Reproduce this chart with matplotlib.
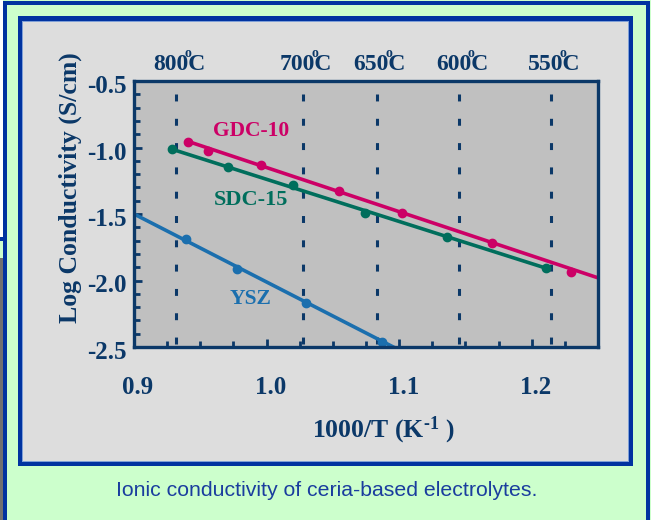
import matplotlib
matplotlib.use('Agg')
import matplotlib.pyplot as plt
from matplotlib.patches import Rectangle
from matplotlib.ticker import MultipleLocator
from matplotlib.transforms import ScaledTranslation

# 1000/T (K^-1) against log conductivity (S/cm)
gdc_x = [0.941, 0.956, 0.996, 1.055, 1.102, 1.170, 1.230]
gdc_y = [-0.956, -1.026, -1.132, -1.325, -1.495, -1.716, -1.934]
gdc_fit_x = [0.941, 1.25]
gdc_fit_y = [-0.955, -1.98]

sdc_x = [0.929, 0.971, 1.020, 1.074, 1.136, 1.211]
sdc_y = [-1.014, -1.144, -1.282, -1.495, -1.671, -1.908]
sdc_fit_x = [0.929, 1.211]
sdc_fit_y = [-1.014, -1.908]

ysz_x = [0.939, 0.978, 1.030, 1.087]
ysz_y = [-1.690, -1.916, -2.171, -2.460]
ysz_fit_x = [0.90, 1.096]
ysz_fit_y = [-1.50, -2.502]

temps_c = [800, 700, 650, 600, 550]
xticks = [0.9, 1.0, 1.1, 1.2]
yticks = [-2.5, -2.0, -1.5, -1.0, -0.5]

navy = '#0b3868'
gdc_col = '#cc0066'
sdc_col = '#006e5c'
ysz_col = '#1b6fae'
blue = '#0033a0'

plt.rcParams['font.family'] = ['Liberation Serif', 'DejaVu Serif']
plt.rcParams['font.weight'] = 'bold'
plt.rcParams['mathtext.fontset'] = 'custom'
plt.rcParams['mathtext.rm'] = 'Liberation Serif:bold'
plt.rcParams['mathtext.it'] = 'Liberation Serif:bold'
plt.rcParams['mathtext.bf'] = 'Liberation Serif:bold'
plt.rcParams['lines.scale_dashes'] = False

W, H = 651, 520
fig = plt.figure(figsize=(W / 100, H / 100), dpi=100)
fig.patch.set_facecolor('#ccffcc')

# slide decoration, drawn in pixel units
bg = fig.add_axes([0, 0, 1, 1], zorder=0)
bg.set_xlim(0, W)
bg.set_ylim(H, 0)
bg.axis('off')


def box(x0, y0, x1, y1, color):
    bg.add_patch(Rectangle((x0, y0), x1 - x0, y1 - y0, color=color, lw=0))


box(0, 0, 3, 237, 'white')
box(0, 258, 5, H, '#707070')
box(0, 237, 7, 241, blue)
box(3, 1, 7, H, blue)
box(3, 1, 650, 5, blue)
box(646, 1, 650, H, blue)
box(18, 16, 633, 466, blue)
box(22, 21, 629, 462, '#7f9fd6')
box(23, 22, 628, 461, '#dddddd')

# main plot
ax = fig.add_axes([134 / W, 1 - 347 / H, 464 / W, 266 / H], zorder=1)
ax.set_facecolor('#c0c0c0')
ax.set_xlim(0.9, 1.25)
ax.set_ylim(-2.5, -0.5)

for t in temps_c:
    xt = 1000.0 / (t + 273.15)
    ax.plot([xt, xt], [-0.6, -2.5], color=navy, lw=2.2,
            linestyle=(0, (5, 12.5)), zorder=1)
    # the slide sets the degree "o" raised over the last digit and the C
    ax.annotate(f'{t}C', xy=(xt, 1), xycoords=('data', 'axes fraction'),
                xytext=(2, 8), textcoords='offset points',
                ha='center', va='baseline', fontsize=17, color=navy,
                annotation_clip=False)
    ax.annotate('o', xy=(xt, 1), xycoords=('data', 'axes fraction'),
                xytext=(2 + 6.4, 19.5), textcoords='offset points',
                ha='center', va='center', fontsize=10, color=navy,
                annotation_clip=False)

ax.plot(gdc_fit_x, gdc_fit_y, color=gdc_col, lw=2.6, zorder=3)
ax.plot(gdc_x, gdc_y, 'o', color=gdc_col, ms=6, zorder=4)
ax.plot(sdc_fit_x, sdc_fit_y, color=sdc_col, lw=2.6, zorder=3)
ax.plot(sdc_x, sdc_y, 'o', color=sdc_col, ms=6, zorder=4)
ax.plot(ysz_fit_x, ysz_fit_y, color=ysz_col, lw=2.6, zorder=3)
ax.plot(ysz_x, ysz_y, 'o', color=ysz_col, ms=6, zorder=4)

ax.text(0.988, -0.876, 'GDC-10', color=gdc_col, fontsize=15.5,
        ha='center', va='center')
ax.text(0.988, -1.395, 'SDC-15', color=sdc_col, fontsize=16,
        ha='center', va='center')
ax.text(0.988, -2.139, 'YSZ', color=ysz_col, fontsize=15.5,
        ha='center', va='center')

for s in ax.spines.values():
    s.set_color(navy)
    s.set_linewidth(2.4)
    s.set_zorder(5)

ax.set_xticks(xticks)
ax.set_xticklabels([f'{v:.1f}' for v in xticks])
ax.xaxis.set_minor_locator(MultipleLocator(0.025))
ax.set_yticks(yticks)
ax.set_yticklabels([f'{v:.1f}' for v in yticks])
ax.yaxis.set_minor_locator(MultipleLocator(0.1))
ax.tick_params(axis='both', which='both', direction='in', color=navy,
               top=False, right=False, labelcolor=navy)
ax.tick_params(axis='both', which='major', length=6, width=2, labelsize=18)
ax.tick_params(axis='both', which='minor', length=4, width=2)
ax.tick_params(axis='x', which='major', pad=21)
ax.tick_params(axis='y', which='major', pad=5)

for lab in ax.get_xticklabels():
    lab.set_transform(lab.get_transform() + ScaledTranslation(0.04, 0, fig.dpi_scale_trans))
for lab in ax.get_yticklabels():
    lab.set_transform(lab.get_transform() + ScaledTranslation(0, -0.03, fig.dpi_scale_trans))

fig.text(70 / W, 1 - 188 / H, 'Log Conductivity (S/cm)', rotation=90,
         ha='center', va='center', fontsize=18.5, color=navy)
fig.text(383 / W, 1 - 430 / H, r'1000/T (K$^{\text{-1}}$ )', ha='center',
         va='center', fontsize=18.5, color=navy)
fig.text(327 / W, 1 - 491 / H, 'Ionic conductivity of ceria-based electrolytes.',
         ha='center', va='center', fontsize=15.3, color='#1a3d9e',
         family='Liberation Sans', weight='normal')

fig.savefig('out.png', dpi=100, facecolor=fig.get_facecolor())
